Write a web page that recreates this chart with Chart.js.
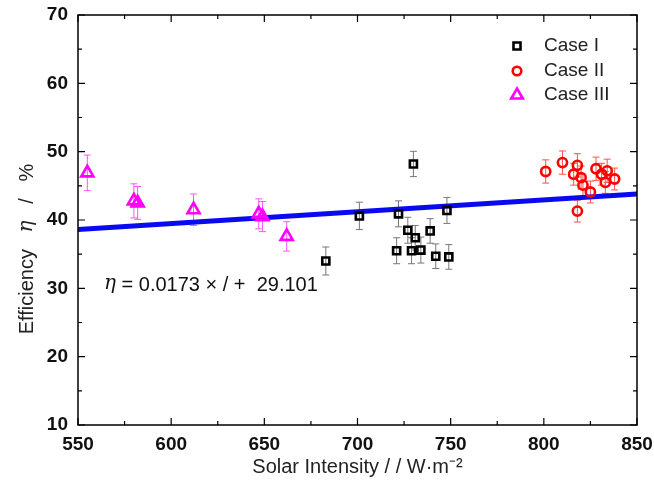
<!DOCTYPE html>
<html>
<head>
<meta charset="utf-8">
<script src="https://cdn.jsdelivr.net/npm/chart.js@4/dist/chart.umd.min.js"></script>
<style>
  body { margin: 0; background: #fff; }
  canvas { display: block; }
</style>
</head>
<body>
<canvas id="effChart" width="654" height="491"></canvas>
<script>
// data
const caseIX = [730, 701, 722, 748, 683, 727, 739, 731, 721, 729, 734, 742, 749];
const caseIY = [48.2, 40.6, 40.9, 41.4, 34.0, 38.5, 38.4, 37.4, 35.5, 35.5, 35.6, 34.7, 34.6];
const caseIErr = [1.85, 2.0, 1.9, 1.9, 2.05, 1.9, 1.8, 1.8, 1.9, 1.9, 1.9, 1.8, 1.8];

const caseIIX = [801, 810, 818, 816, 820, 821, 825, 818, 828, 831, 834, 833, 838];
const caseIIY = [47.1, 48.4, 48.0, 46.7, 46.2, 45.1, 44.1, 41.3, 47.5, 46.7, 47.2, 45.5, 46.0];
const caseIIErr = [1.7, 1.7, 1.7, 1.6, 1.7, 1.6, 1.6, 1.6, 1.7, 1.6, 1.7, 1.6, 1.6];

const caseIIIX = [555, 580, 582, 612, 647, 649, 662];
const caseIIIY = [46.9, 42.8, 42.5, 41.5, 40.9, 40.5, 37.6];
const caseIIIErr = [2.6, 2.5, 2.4, 2.3, 2.2, 2.2, 2.15];

const fitX = [550, 850];
const fitY = [38.6, 43.8];

const xTicks = [550, 600, 650, 700, 750, 800, 850];
const yTicks = [10, 20, 30, 40, 50, 60, 70];

function pts(xs, ys) {
    return xs.map((x, i) => ({ x: x, y: ys[i] }));
}

const SANS = '"Liberation Sans", Arial, sans-serif';
const SERIF = '"DejaVu Serif", "Liberation Serif", serif';

// error bars, frame, inward ticks, legend and labels
const decor = {
    id: 'decor',
    beforeDatasetsDraw(chart) {
        const ctx = chart.ctx;
        const xs = chart.scales.x, ys = chart.scales.y;
        chart.data.datasets.forEach(ds => {
            if (!ds.errs) return;
            ctx.save();
            ctx.strokeStyle = ds.errColor;
            ctx.lineWidth = 1;
            ds.data.forEach((p, i) => {
                const px = xs.getPixelForValue(p.x);
                const top = ys.getPixelForValue(p.y + ds.errs[i]);
                const bot = ys.getPixelForValue(p.y - ds.errs[i]);
                ctx.beginPath();
                ctx.moveTo(px, top); ctx.lineTo(px, bot);
                ctx.moveTo(px - 3.5, top); ctx.lineTo(px + 3.5, top);
                ctx.moveTo(px - 3.5, bot); ctx.lineTo(px + 3.5, bot);
                ctx.stroke();
            });
            ctx.restore();
        });
    },
    afterDraw(chart) {
        const ctx = chart.ctx;
        const a = chart.chartArea;
        const xs = chart.scales.x, ys = chart.scales.y;
        ctx.save();
        ctx.strokeStyle = '#000';
        ctx.lineWidth = 1.5;
        ctx.strokeRect(a.left, a.top, a.right - a.left, a.bottom - a.top);

        ctx.lineWidth = 1.2;
        ctx.beginPath();
        for (let v = 550; v <= 850; v += 25) {
            const px = xs.getPixelForValue(v);
            const len = v % 50 === 0 ? 7 : 4;
            ctx.moveTo(px, a.bottom); ctx.lineTo(px, a.bottom - len);
            ctx.moveTo(px, a.top); ctx.lineTo(px, a.top + len);
        }
        for (let v = 10; v <= 70; v += 5) {
            const py = ys.getPixelForValue(v);
            const len = v % 10 === 0 ? 7 : 4;
            ctx.moveTo(a.left, py); ctx.lineTo(a.left + len, py);
            ctx.moveTo(a.right, py); ctx.lineTo(a.right - len, py);
        }
        ctx.stroke();

        // legend
        const lx = 517;
        const rows = [
            { y: 46, text: 'Case I', color: '#000000', shape: 'rect' },
            { y: 71, text: 'Case II', color: '#ff0000', shape: 'circle' },
            { y: 95, text: 'Case III', color: '#ff00ff', shape: 'triangle' }
        ];
        rows.forEach(r => {
            ctx.strokeStyle = r.color;
            ctx.lineWidth = 2.6;
            ctx.beginPath();
            if (r.shape === 'rect') {
                ctx.rect(lx - 3.5, r.y - 3.5, 7, 7);
            } else if (r.shape === 'circle') {
                ctx.arc(lx, r.y, 4.3, 0, Math.PI * 2);
            } else {
                ctx.moveTo(lx, r.y - 6.5);
                ctx.lineTo(lx + 5.8, r.y + 3.5);
                ctx.lineTo(lx - 5.8, r.y + 3.5);
                ctx.closePath();
            }
            ctx.stroke();
            ctx.fillStyle = '#222';
            ctx.font = '19px ' + SANS;
            ctx.textAlign = 'left';
            ctx.textBaseline = 'middle';
            ctx.fillText(r.text, 544, r.y);
        });

        // fit equation
        ctx.fillStyle = '#111';
        ctx.textBaseline = 'middle';
        ctx.font = 'italic 20px ' + SERIF;
        ctx.fillText('η', 104, 284);
        const ew = ctx.measureText('η').width;
        ctx.font = '20px ' + SANS;
        ctx.fillText(' = 0.0173 × / +  29.101', 104 + ew, 285);

        // y axis title
        ctx.translate(27, 249);
        ctx.rotate(-Math.PI / 2);
        const parts = [
            { t: 'Efficiency   ', f: '20px ' + SANS },
            { t: 'η', f: 'italic 20px ' + SERIF },
            { t: '   /   %', f: '20px ' + SANS }
        ];
        let total = 0;
        parts.forEach(p => { ctx.font = p.f; p.w = ctx.measureText(p.t).width; total += p.w; });
        let cx = -total / 2;
        ctx.fillStyle = '#222';
        parts.forEach(p => { ctx.font = p.f; ctx.fillText(p.t, cx, 0); cx += p.w; });
        ctx.restore();
    }
};

const ctx = document.getElementById('effChart').getContext('2d');
const effChart = new Chart(ctx, {
    type: 'scatter',
    data: {
        datasets: [{
            label: 'Fit',
            data: pts(fitX, fitY),
            showLine: true,
            borderColor: '#0a0af0',
            borderWidth: 5,
            pointRadius: 0,
            order: 10
        }, {
            label: 'Case I',
            data: pts(caseIX, caseIY),
            errs: caseIErr,
            errColor: '#777777',
            pointStyle: 'rect',
            pointRadius: 5,
            borderColor: '#000000',
            backgroundColor: 'rgba(0,0,0,0)',
            borderWidth: 2.6,
            order: 1
        }, {
            label: 'Case II',
            data: pts(caseIIX, caseIIY),
            errs: caseIIErr,
            errColor: '#ff5050',
            pointStyle: 'circle',
            pointRadius: 4.6,
            borderColor: '#ff0000',
            backgroundColor: 'rgba(0,0,0,0)',
            borderWidth: 2.6,
            order: 1
        }, {
            label: 'Case III',
            data: pts(caseIIIX, caseIIIY),
            errs: caseIIIErr,
            errColor: '#ff55ff',
            pointStyle: 'triangle',
            pointRadius: 7,
            borderColor: '#ff00ff',
            backgroundColor: 'rgba(0,0,0,0)',
            borderWidth: 2.6,
            order: 1
        }]
    },
    options: {
        responsive: false,
        animation: false,
        devicePixelRatio: 1,
        layout: { autoPadding: false, padding: { top: 15, right: 17, left: 0, bottom: 0 } },
        plugins: {
            legend: { display: false },
            tooltip: { enabled: false }
        },
        scales: {
            x: {
                type: 'linear',
                min: 550,
                max: 850,
                afterBuildTicks: s => { s.ticks = xTicks.map(v => ({ value: v })); },
                afterFit: s => { s.height = 66; s.paddingLeft = 0; s.paddingRight = 0; },
                grid: { display: false, drawTicks: false },
                border: { display: false },
                ticks: {
                    color: '#111',
                    padding: 8,
                    maxRotation: 0,
                    font: { family: SANS, size: 19, weight: 'bold' }
                },
                title: {
                    display: true,
                    text: 'Solar Intensity / / W·m⁻²',
                    color: '#222',
                    font: { family: SANS, size: 20 },
                    padding: { top: 0, bottom: 12 }
                }
            },
            y: {
                min: 10,
                max: 70,
                afterBuildTicks: s => { s.ticks = yTicks.map(v => ({ value: v })); },
                afterFit: s => { s.width = 78; s.paddingTop = 0; s.paddingBottom = 0; },
                grid: { display: false, drawTicks: false },
                border: { display: false },
                ticks: {
                    color: '#111',
                    padding: 10,
                    font: { family: SANS, size: 19, weight: 'bold' }
                }
            }
        }
    },
    plugins: [decor]
});
</script>
</body>
</html>
